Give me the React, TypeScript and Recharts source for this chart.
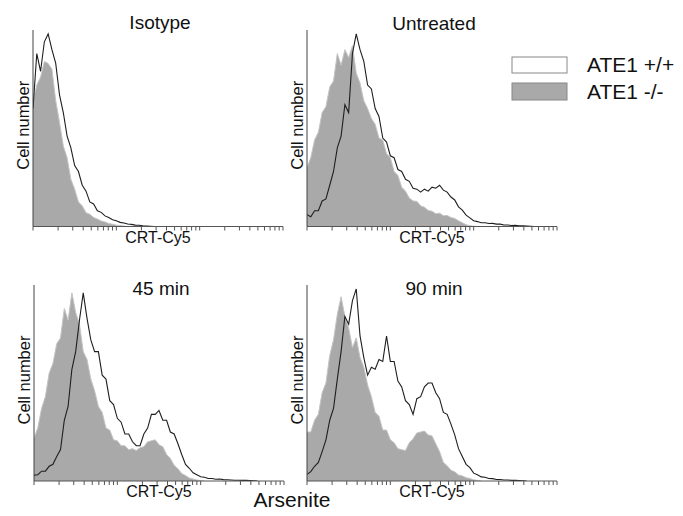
import { ComposedChart, Area, Line, XAxis, YAxis } from 'recharts'

// channel counts per bin (ko = ATE1 -/- grey, wt = ATE1 +/+ outline)
const isoKO = [64, 72, 76, 84, 83, 80, 64, 53, 41, 35, 24, 19, 12.5, 10.5, 7, 6.2, 4.6, 3.8, 2.8, 2.3, 1.5, 1.2, 0.7, 0.5, 0.2, 0]
const isoWT = [60, 88, 79, 94, 98, 90, 83, 67, 58, 46, 40, 31, 28, 21, 18, 12.5, 11.5, 8, 7.2, 5.4, 4.6, 3.4, 2.9, 2.1, 1.8, 1.3, 1.1, 0.7, 0.6, 0.3, 0.2, 0.1, 0]

const untKO = [30, 35, 44, 48, 58, 61, 71, 74, 88, 82, 90, 86, 92, 78, 73, 64, 60, 55, 52, 45, 44, 37, 35, 28, 26, 20, 18, 14.5, 13, 12.8, 10.5, 9.8, 8.2, 7.8, 6.5, 6.8, 5.5, 5.6, 4.6, 4.1, 2.9, 1.9, 0.9, 0.4, 0.1, 0]
const untWT = [6, 5, 8, 8, 13, 14, 21, 28, 40, 46, 62, 58, 88, 98, 90, 84, 72, 70, 60, 56, 45, 43, 36, 35, 29, 28, 24, 23, 19.5, 19, 17.5, 19, 18, 20, 19.5, 21, 18.5, 17.5, 15, 13.5, 10, 8.3, 5.8, 4.4, 2.9, 2.5, 1.9, 1.9, 1.5, 1.6, 1.2, 1.2, 0.8, 0.8, 0.5, 0.6, 0.4, 0.3, 0.2, 0.1, 0]

const m45KO = [22, 27, 37, 43, 55, 60, 70, 73, 88, 82, 96, 86, 80, 66, 62, 52, 46, 38, 35, 27, 26, 21, 20.5, 18, 18, 16, 16.5, 15.5, 17, 17.5, 20, 20.5, 21, 18.5, 17.5, 13.5, 11.5, 8, 6.2, 3.8, 2.8, 1.5, 1, 0.5, 0.2, 0]
const m45WT = [3, 3.2, 5, 5, 7.5, 8.5, 12.5, 16, 31, 38, 57, 66, 82, 96, 83, 72, 66, 66, 54, 52, 41, 39, 32, 30, 24, 24, 20, 18, 18, 24, 27, 34, 34, 36, 31, 31, 25, 24, 19, 13.5, 8.5, 6.5, 4.2, 3.2, 2.2, 1.9, 1.3, 1.3, 0.9, 1, 0.7, 0.6, 0.5, 0.4, 0.4, 0.3, 0.3, 0.2, 0.1, 0]

const m90KO = [25, 25, 31, 34, 45, 50, 64, 72, 85, 94, 84, 78, 68, 73, 63, 58, 49, 43, 35, 33, 26, 26, 21, 19.5, 16.5, 16, 15.5, 19.5, 21.5, 24.5, 25, 25.5, 23.5, 23, 19, 15, 9.5, 7.8, 5.5, 4.7, 3.1, 2.6, 1.7, 1.3, 0.6, 0.3, 0]
const m90WT = [3.4, 4.8, 7.5, 9.5, 15, 21, 31, 37, 52, 66, 84, 80, 92, 98, 74, 63, 54, 58, 57, 62, 61, 74, 61, 61, 51, 48, 41, 39, 34, 42, 43, 48, 50, 50, 45, 42, 35, 34, 29, 23.5, 16.5, 12.5, 8.5, 6.8, 4, 3.2, 2.1, 1.9, 1.3, 1.2, 0.8, 0.8, 0.5, 0.5, 0.3, 0.3, 0.2, 0.1, 0]

const titles = ['Isotype', 'Untreated', '45 min', '90 min']
const legendLabels = ['ATE1 +/+', 'ATE1 -/-']

const CH_MAX = 66
const DECADE = CH_MAX / 3
const TICKS: number[] = []
for (let d = 0; d < 3; d++) {
  for (let k = 1; k < 10; k++) TICKS.push(DECADE * (d + Math.log10(k)))
}
TICKS.push(CH_MAX)

const FONT = '"Liberation Sans", Arial, sans-serif'
const PLOT_W = 250

const panels = [
  { title: titles[0], ko: isoKO, wt: isoWT, left: 33, top: 30, bottom: 226.5, titleY: 29 },
  { title: titles[1], ko: untKO, wt: untWT, left: 307, top: 30, bottom: 226.5, titleY: 30 },
  { title: titles[2], ko: m45KO, wt: m45WT, left: 34, top: 285, bottom: 481, titleY: 295 },
  { title: titles[3], ko: m90KO, wt: m90WT, left: 307, top: 285, bottom: 481, titleY: 295 },
]

function toRows(ko: number[], wt: number[]) {
  const n = Math.max(ko.length, wt.length)
  return Array.from({ length: n }, (_, i) => ({ ch: i, ko: ko[i], wt: wt[i] }))
}

function Histogram({ panel }: { panel: (typeof panels)[number] }) {
  const padL = 30
  const padT = 6
  const padB = 26
  const padR = 6
  const w = PLOT_W + padL + padR
  const h = panel.bottom - panel.top + padT + padB
  return (
    <div style={{ position: 'absolute', left: panel.left - padL, top: panel.top - padT }}>
      <ComposedChart
        width={w}
        height={h}
        data={toRows(panel.ko, panel.wt)}
        margin={{ top: padT, right: padR, bottom: padB - 5, left: padL - 10 }}
      >
        <XAxis
          dataKey="ch"
          type="number"
          domain={[0, CH_MAX]}
          ticks={TICKS}
          interval={0}
          tick={() => <g />}
          tickSize={4}
          height={5}
          axisLine={{ stroke: '#555' }}
          tickLine={{ stroke: '#555' }}
          allowDataOverflow
        />
        <YAxis
          domain={[0, 100]}
          width={10}
          tick={false}
          tickLine={false}
          axisLine={{ stroke: '#444' }}
          allowDataOverflow
        />
        <Area
          dataKey="ko"
          type="linear"
          fill="#a9a9a9"
          fillOpacity={1}
          stroke="#c4c4c4"
          strokeWidth={1}
          isAnimationActive={false}
        />
        <Line
          dataKey="wt"
          type="linear"
          stroke="#1e1e1e"
          strokeWidth={1.1}
          dot={false}
          isAnimationActive={false}
        />
      </ComposedChart>
    </div>
  )
}

export default function App() {
  return (
    <div style={{ position: 'absolute', left: 0, top: 0, width: 683, height: 516, background: '#fff' }}>
      {panels.map((p) => (
        <Histogram key={p.title} panel={p} />
      ))}
      <svg
        width={683}
        height={516}
        style={{ position: 'absolute', left: 0, top: 0, pointerEvents: 'none' }}
        fontFamily={FONT}
        fill="#111"
      >
        {panels.map((p) => {
          const cx = p.left + PLOT_W / 2
          const cy = (p.top + p.bottom) / 2
          return (
            <g key={p.title}>
              <text x={cx + 2} y={p.titleY} fontSize={19} textAnchor="middle">
                {p.title}
              </text>
              <text x={cx} y={p.bottom + 16} fontSize={16} textAnchor="middle">
                CRT-Cy5
              </text>
              <text transform={`translate(${p.left - 4}, ${cy - 3}) rotate(-90)`} fontSize={16.5} textAnchor="middle">
                Cell number
              </text>
            </g>
          )
        })}
        <text x={292} y={507} fontSize={21} textAnchor="middle">
          Arsenite
        </text>
        <rect x={512} y={57} width={55} height={16} fill="#fff" stroke="#888" />
        <rect x={512} y={83} width={55} height={17} fill="#a9a9a9" stroke="#888" />
        <text x={587} y={72} fontSize={21}>
          {legendLabels[0]}
        </text>
        <text x={587} y={99} fontSize={21}>
          {legendLabels[1]}
        </text>
      </svg>
    </div>
  )
}
